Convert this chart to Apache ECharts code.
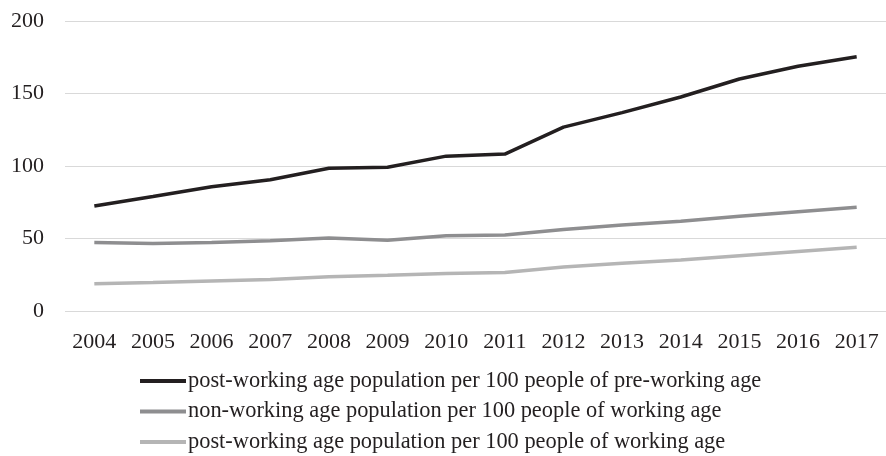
<!DOCTYPE html>
<html><head><meta charset="utf-8">
<script src="https://cdn.jsdelivr.net/npm/echarts@6/dist/echarts.min.js"></script>
<style>html,body{margin:0;padding:0;background:#fff}#c{width:886px;height:456px}</style>
</head><body><div id="c"></div>
<script>
var years = ['2004','2005','2006','2007','2008','2009','2010','2011','2012','2013','2014','2015','2016','2017'];
var postPerPre = [72.4, 79, 85.7, 90.5, 98.5, 99.2, 106.8, 108.2, 126.8, 136.8, 147.6, 160, 168.8, 175.3];
var nonPerWorking = [47.2, 46.6, 47.3, 48.5, 50.3, 48.8, 51.9, 52.4, 56.2, 59.3, 61.9, 65.3, 68.4, 71.5];
var postPerWorking = [18.8, 19.6, 20.7, 21.8, 23.6, 24.7, 25.9, 26.6, 30.4, 32.9, 35.1, 38.1, 41.1, 44.0];
var names = ['post-working age population per 100 people of pre-working age',
             'non-working age population per 100 people of working age',
             'post-working age population per 100 people of working age'];
var colors = ['#231f20', '#8e8e90', '#b5b5b5'];
var font = '"Liberation Serif", "DejaVu Serif", serif';
var chart = echarts.init(document.getElementById('c'));
function s(i, d){ return {name: names[i], type:'line', data:d, showSymbol:false, symbol:'none',
  lineStyle:{color:colors[i], width:3.5}, itemStyle:{color:colors[i]}, smooth:false}; }
chart.setOption({
  animation:false,
  color: colors,
  grid:{left:65, right:0, top:21, bottom:145},
  xAxis:{type:'category', data:years, boundaryGap:true,
    axisLine:{show:false}, axisTick:{show:false},
    axisLabel:{color:'#231f20', fontFamily:font, fontSize:22, margin:20}},
  yAxis:{type:'value', min:0, max:200, interval:50,
    axisLine:{show:false}, axisTick:{show:false},
    axisLabel:{color:'#231f20', fontFamily:font, fontSize:22, margin:21},
    splitLine:{lineStyle:{color:'#d9d9d9', width:1.2}}},
  legend:{orient:'vertical', left:140, top:370, height:100, padding:0, itemGap:8.5, itemWidth:46, itemHeight:4, icon:'rect',
    textStyle:{color:'#231f20', fontFamily:font, fontSize:22.4, padding:[0,0,0,-3]},
    data: names},
  series:[s(0,postPerPre), s(1,nonPerWorking), s(2,postPerWorking)]
});
</script></body></html>
